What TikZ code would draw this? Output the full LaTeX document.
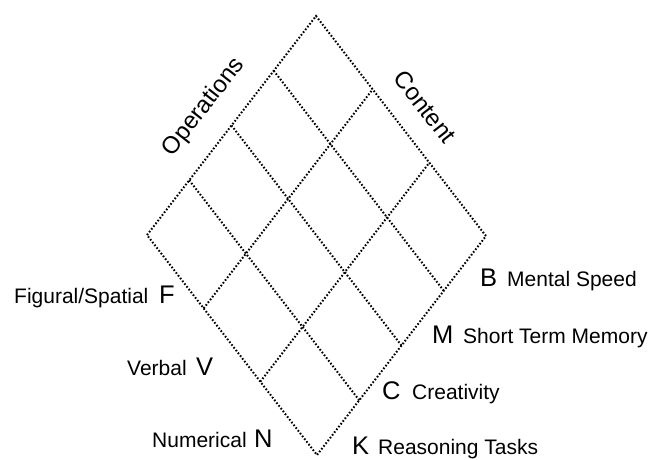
\documentclass[tikz,border=0pt]{standalone}
\usepackage{fontspec}
\setmainfont{Liberation Sans}
\usetikzlibrary{calc}
\tikzset{
  gridline/.style={line width=2pt, dash pattern=on 1.6pt off 1.9pt, black},
  small/.style={font=\fontsize{21}{25}\selectfont, inner sep=0pt, anchor=base west},
  big/.style={font=\fontsize{25.5}{30}\selectfont, inner sep=0pt, anchor=base west},
  axis/.style={font=\fontsize{24}{28}\selectfont, inner sep=0pt}
}
\begin{document}
\begin{tikzpicture}[x=1pt,y=-1pt]
\useasboundingbox (0,0) rectangle (651,459);
% diamond corners
\coordinate (L) at (147,235);
\coordinate (T) at (316,16);
\coordinate (R) at (486,236);
\coordinate (B) at (317,455);
\draw[gridline] (L) -- (T) -- (R) -- (B) -- cycle;
% operation divisions (3)
\foreach \i in {1,2} {
  \coordinate (p\i) at ($(L)!\i/3!(B)$);
  \coordinate (q\i) at ($(T)!\i/3!(R)$);
  \draw[gridline] (p\i) -- (q\i);
}
% content divisions (4)
\foreach \j in {1,2,3} {
  \coordinate (r\j) at ($(B)!\j/4!(R)$);
  \coordinate (s\j) at ($(L)!\j/4!(T)$);
  \draw[gridline] (r\j) -- (s\j);
}
% axis titles
\node[axis, rotate=52] (ops) at (204,107) {Operations};
\node[axis, rotate=-52] (cont) at (425,107) {Content};
% operation labels
\node[small] (fs) at (14,303) {Figural/Spatial};
\node[big] (F) at (159,303) {F};
\node[small] (vb) at (127,375) {Verbal};
\node[big] (V) at (196,375) {V};
\node[small] (nm) at (152,447) {Numerical};
\node[big] (N) at (254,447) {N};
% content labels
\node[big] (Bl) at (480,286) {B};
\node[small] (ms) at (507,286) {Mental Speed};
\node[big] (M) at (432,343) {M};
\node[small] (stm) at (463,343) {Short Term Memory};
\node[big] (C) at (382,399) {C};
\node[small] (cr) at (412,399) {Creativity};
\node[big] (K) at (352,454) {K};
\node[small] (rt) at (378,454) {Reasoning Tasks};
\end{tikzpicture}
\end{document}
